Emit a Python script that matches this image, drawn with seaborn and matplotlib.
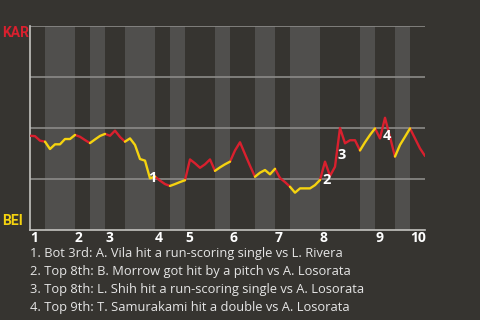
import numpy as np
import pandas as pd
import matplotlib
matplotlib.use("Agg")
import matplotlib.pyplot as plt
import seaborn as sns

# win probability for KAR after each plate appearance (0 = game start)
wp = [0.462, 0.46, 0.438, 0.433, 0.397, 0.42, 0.42, 0.446, 0.446, 0.466,
      0.457, 0.441, 0.426, 0.444, 0.461, 0.471, 0.462, 0.487, 0.456, 0.433,
      0.449, 0.417, 0.348, 0.34, 0.253, 0.262, 0.242, 0.225, 0.216, 0.225,
      0.235, 0.244, 0.346, 0.327, 0.305, 0.322, 0.346, 0.29, 0.307, 0.322,
      0.335, 0.39, 0.43, 0.372, 0.315, 0.261, 0.281, 0.294, 0.273, 0.30,
      0.255, 0.235, 0.212, 0.183, 0.204, 0.204, 0.204, 0.22, 0.245, 0.335,
      0.265, 0.31, 0.50, 0.425, 0.44, 0.44, 0.39, 0.43, 0.466, 0.498,
      0.449, 0.55, 0.455, 0.36, 0.417, 0.457, 0.498, 0.449, 0.40, 0.363]

# plate appearances in each half inning, top 1st .. top 10th
half_pa = [3, 6, 3, 3, 4, 6, 3, 3, 6, 3, 5, 4, 3, 6, 8, 3, 4, 3, 3]
innings = ["1", "2", "3", "4", "5", "6", "7", "8", "9", "10"]

events = ["1. Bot 3rd: A. Vila hit a run-scoring single vs L. Rivera",
          "2. Top 8th: B. Morrow got hit by a pitch vs A. Losorata",
          "3. Top 8th: L. Shih hit a run-scoring single vs A. Losorata",
          "4. Top 9th: T. Samurakami hit a double vs A. Losorata"]
event_idx = [24, 59, 62, 71]
event_label_y = [0.255, 0.245, 0.368, 0.46]

BG = "#363430"
BAND = "#504f4d"
RED = "#d9202e"
YELLOW = "#f5d30f"

ends = np.cumsum(half_pa)
starts = ends - np.array(half_pa)

rows = []
for h, (a, b) in enumerate(zip(starts, ends)):
    team = "KAR" if h % 2 == 0 else "BEI"
    for i in range(a, b + 1):
        rows.append({"pa": i, "wp": wp[i], "half": h, "team": team})
df = pd.DataFrame(rows)

sns.set_style("white")
plt.rcParams["font.family"] = ["Open Sans", "DejaVu Sans"]

fig = plt.figure(figsize=(4.8, 3.2), dpi=100, facecolor=BG)
ax = fig.add_axes([30 / 480, 90 / 320, 395 / 480, 204 / 320])
ax.set_facecolor(BG)

for h, (a, b) in enumerate(zip(starts, ends)):
    if h % 2 == 1:
        ax.axvspan(a, b, color=BAND, lw=0, zorder=0)

for g in [0.25, 0.5, 0.75, 1.0]:
    ax.axhline(g, color="#8c8b88", lw=1.2, zorder=1)

sns.lineplot(data=df, x="pa", y="wp", hue="team", units="half", estimator=None,
             palette={"KAR": RED, "BEI": YELLOW}, lw=1.7, legend=False, ax=ax,
             zorder=3)

for n, i, y in zip(range(1, 5), event_idx, event_label_y):
    ax.text(i + 0.4, y, str(n), color="white", fontsize=10.5, fontweight="bold",
            ha="center", va="center", zorder=4)

ax.set_xlim(0, len(wp) - 1)
ax.set_ylim(0, 1)
ax.set_yticks([])
inn_starts = [starts[k] for k in range(0, len(half_pa), 2)]
ax.set_xticks(inn_starts)
ax.set_xticklabels(innings, color="white", fontsize=10, fontweight="bold", ha="left")
ax.tick_params(axis="x", length=0, pad=0.5)
ax.set_xlabel("")
ax.set_ylabel("")

for s in ["top", "right"]:
    ax.spines[s].set_visible(False)
for s in ["left", "bottom"]:
    ax.spines[s].set_color("#c4c3c0")
    ax.spines[s].set_linewidth(1.2)

fig.text(2 / 480, 1 - 33 / 320, "KAR", color=RED, fontsize=10, fontweight="bold",
         family="Roboto", ha="left", va="center")
fig.text(2 / 480, 1 - 221 / 320, "BEI", color=YELLOW, fontsize=10, fontweight="bold",
         family="Roboto", ha="left", va="center")

for k, t in enumerate(events):
    fig.text(30 / 480, 1 - (253 + 18 * k) / 320, t, color="#e6e6e6", fontsize=9.3,
             ha="left", va="center")

fig.savefig("out.png", dpi=100, facecolor=BG)
